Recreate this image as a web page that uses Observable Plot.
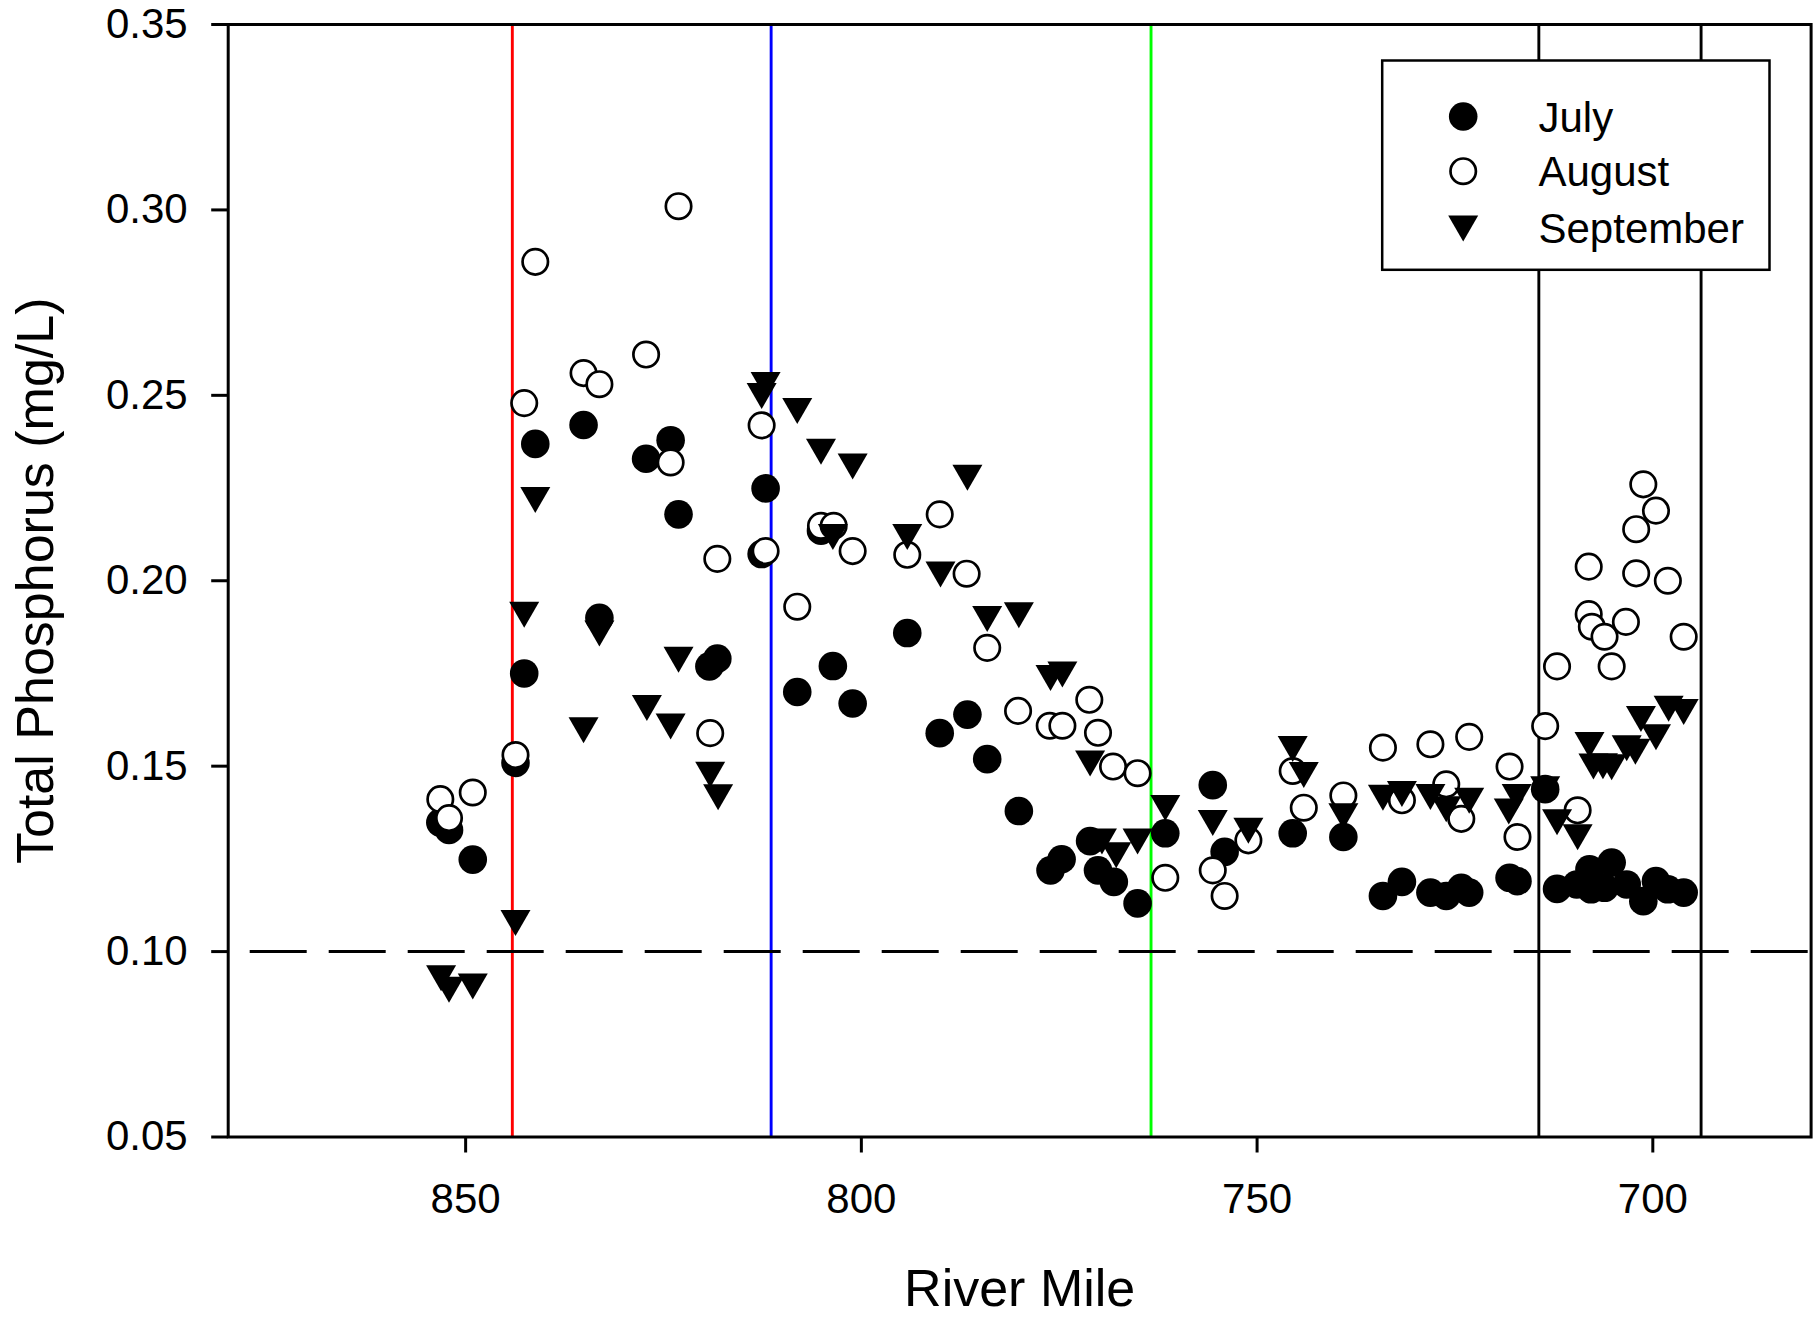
<!DOCTYPE html>
<html>
<head>
<meta charset="utf-8">
<script src="https://cdn.jsdelivr.net/npm/d3@7"></script>
<script src="https://cdn.jsdelivr.net/npm/@observablehq/plot@0.6"></script>
<style>
  html, body { margin: 0; padding: 0; overflow: hidden; background: #ffffff; }
  #chart svg { display: block; }
</style>
</head>
<body>
<div id="chart"></div>
<script>
// ---------------- DATA ----------------
const julyMiles = [853.2, 852.1, 849.1, 843.7, 842.6, 841.2, 835.1, 833.1, 827.2, 824.1, 823.1, 819.2, 818.2, 812.6, 812.1, 808.1, 805.1, 803.6, 801.1, 794.2, 790.1, 786.6, 784.1, 780.1, 776.1, 774.7, 771.1, 770.1, 768.1, 765.1, 761.6, 755.6, 754.1, 745.5, 739.1, 734.1, 731.7, 728.1, 726.1, 724.2, 723.2, 718.1, 717.1, 713.6, 712.1, 709.6, 708.0, 707.8, 706.1, 705.2, 703.3, 701.2, 699.6, 698.1, 696.1];
const julyTP = [0.1348, 0.1328, 0.1248, 0.1509, 0.1750, 0.2369, 0.2420, 0.1900, 0.2329, 0.2379, 0.2179, 0.1769, 0.1790, 0.2072, 0.2249, 0.1700, 0.2135, 0.1770, 0.1669, 0.1859, 0.1589, 0.1639, 0.1519, 0.1379, 0.1219, 0.1249, 0.1298, 0.1219, 0.1188, 0.1130, 0.1319, 0.1449, 0.1269, 0.1319, 0.1309, 0.1150, 0.1188, 0.1159, 0.1150, 0.1172, 0.1159, 0.1199, 0.1190, 0.1438, 0.1169, 0.1181, 0.1222, 0.1168, 0.1172, 0.1240, 0.1181, 0.1136, 0.1190, 0.1168, 0.1159];

const augustMiles = [853.2, 852.1, 849.1, 843.7, 842.6, 841.2, 835.1, 833.1, 827.2, 824.1, 823.1, 819.1, 818.2, 812.6, 812.1, 808.1, 805.1, 803.5, 801.1, 794.2, 790.1, 786.7, 784.1, 780.2, 776.2, 774.6, 771.2, 770.1, 768.2, 765.1, 761.6, 755.6, 754.1, 751.1, 745.5, 744.1, 739.1, 734.1, 731.7, 728.1, 726.1, 724.2, 723.2, 718.1, 717.1, 713.6, 712.1, 709.5, 708.1, 708.1, 707.7, 706.1, 705.2, 703.4, 702.1, 702.1, 701.2, 699.6, 698.1, 696.1];
const augustTP = [0.1411, 0.1360, 0.1429, 0.1530, 0.2479, 0.2860, 0.2560, 0.2530, 0.2610, 0.2319, 0.3010, 0.1589, 0.2059, 0.2419, 0.2080, 0.1930, 0.2148, 0.2148, 0.2080, 0.2070, 0.2179, 0.2019, 0.1819, 0.1649, 0.1609, 0.1609, 0.1679, 0.1590, 0.1499, 0.1481, 0.1199, 0.1219, 0.1150, 0.1300, 0.1487, 0.1388, 0.1421, 0.1550, 0.1408, 0.1559, 0.1451, 0.1358, 0.1579, 0.1499, 0.1309, 0.1608, 0.1769, 0.1381, 0.2038, 0.1910, 0.1876, 0.1849, 0.1769, 0.1889, 0.2139, 0.2020, 0.2260, 0.2189, 0.2000, 0.1849];

const septemberMiles = [853.1, 852.1, 849.1, 843.7, 842.6, 841.2, 835.1, 833.1, 827.1, 824.1, 823.1, 819.1, 818.1, 812.6, 812.1, 808.1, 805.1, 803.6, 801.1, 794.2, 790.0, 786.6, 784.1, 780.1, 776.1, 774.6, 771.1, 769.6, 767.8, 765.1, 761.6, 755.6, 751.1, 745.5, 744.1, 739.1, 734.1, 731.7, 728.1, 726.1, 723.2, 718.2, 717.2, 713.6, 712.1, 709.5, 708.0, 707.5, 706.3, 705.2, 703.3, 702.2, 701.5, 699.6, 698.0, 696.1];
const septemberTP = [0.0928, 0.0897, 0.0906, 0.1077, 0.1908, 0.2218, 0.1597, 0.1858, 0.1657, 0.1607, 0.1787, 0.1477, 0.1416, 0.2498, 0.2528, 0.2458, 0.2348, 0.2118, 0.2308, 0.2118, 0.2017, 0.2278, 0.1897, 0.1907, 0.1738, 0.1747, 0.1507, 0.1297, 0.1260, 0.1297, 0.1387, 0.1347, 0.1326, 0.1546, 0.1476, 0.1365, 0.1415, 0.1425, 0.1417, 0.1384, 0.1407, 0.1378, 0.1417, 0.1438, 0.1349, 0.1308, 0.1557, 0.1499, 0.1500, 0.1497, 0.1548, 0.1539, 0.1627, 0.1578, 0.1655, 0.1646];

const referenceMiles = [844.1, 811.4, 763.4, 714.4, 693.9];
const thresholdTP = [0.10];
const xTicks = [850, 800, 750, 700];
const yTicks = [0.05, 0.10, 0.15, 0.20, 0.25, 0.30, 0.35];
const seriesNames = ["July", "August", "September"];
const xTitle = "River Mile";
const yTitle = "Total Phosphorus (mg/L)";

// ---------------- BUILD ----------------
const toRows = (miles, vals) => miles.map((m, i) => ({mile: m, tp: vals[i]}));
const july = toRows(julyMiles, julyTP);
const august = toRows(augustMiles, augustTP);
const september = toRows(septemberMiles, septemberTP);

const lineColors = ["#ff0000", "#0000ff", "#00ff00", "#000000", "#000000"];

// downward pointing triangle (bbox centred on the point)
const triangleDown = {
  draw(context, size) {
    const s = Math.sqrt(size / Math.PI);
    context.moveTo(-s * 15 / 14, -s * 13 / 14);
    context.lineTo(s * 15 / 14, -s * 13 / 14);
    context.lineTo(0, s * 13 / 14);
    context.closePath();
  }
};

const FONT = "'Liberation Sans', Arial, Helvetica, sans-serif";

const W = 1813, H = 1317;
const mL = 227.7, mR = 2.4, mT = 24, mB = 180.5;

// legend geometry (pixel offsets from the plot frame's top-left corner)
const legBox = {left: 1381.7, right: 1769, top: 60, bottom: 269.3};
const legSymX = 1462.7 - mL;
const legTextX = 1538 - mL;
const legSymY = [116 - mT, 170.7 - mT, 228 - mT];
const legTextY = [131 - mT, 185.7 - mT, 242.7 - mT];

const chart = Plot.plot({
  width: W,
  height: H,
  marginLeft: mL,
  marginRight: mR,
  marginTop: mT,
  marginBottom: mB,
  style: {fontFamily: FONT, fontSize: "42px", color: "#000", background: "#fff", overflow: "visible"},
  x: {domain: [880, 680], ticks: xTicks, tickFormat: "d", tickSize: 16, tickPadding: 30, label: null},
  y: {domain: [0.05, 0.35], ticks: yTicks, tickFormat: d3.format(".2f"), tickSize: 16.5, tickPadding: 24, label: null},
  marks: [
    Plot.ruleX(referenceMiles, {x: d => d, stroke: (d, i) => lineColors[i], strokeWidth: 2.9}),
    Plot.ruleY(thresholdTP, {y: d => d, stroke: "#000", strokeWidth: 3, strokeDasharray: "57,22", strokeDashoffset: 57}),
    Plot.dot(july, {x: "mile", y: "tp", r: 14.3, fill: "#000", stroke: "none"}),
    Plot.dot(august, {x: "mile", y: "tp", r: 12.7, fill: "#fff", stroke: "#000", strokeWidth: 2.7}),
    Plot.dot(september, {x: "mile", y: "tp", r: 14, symbol: triangleDown, fill: "#000", stroke: "none"}),
    // legend box
    Plot.frame({fill: "#fff", stroke: "#000", strokeWidth: 2.5,
      insetLeft: legBox.left - mL, insetRight: (W - mR) - legBox.right,
      insetTop: legBox.top - mT, insetBottom: (H - mB) - legBox.bottom}),
    Plot.dot([seriesNames[0]], {frameAnchor: "top-left", dx: legSymX, dy: legSymY[0], r: 14.3, fill: "#000", stroke: "none"}),
    Plot.dot([seriesNames[1]], {frameAnchor: "top-left", dx: legSymX, dy: legSymY[1], r: 12.7, fill: "#fff", stroke: "#000", strokeWidth: 2.7}),
    Plot.dot([seriesNames[2]], {frameAnchor: "top-left", dx: legSymX, dy: legSymY[2], r: 14, symbol: triangleDown, fill: "#000", stroke: "none"}),
    ...seriesNames.map((name, i) => Plot.text([name], {frameAnchor: "top-left", dx: legTextX, dy: legTextY[i], text: d => d, textAnchor: "start", lineAnchor: "bottom", fontSize: 42, fill: "#000"})),
    // plot frame
    Plot.frame({stroke: "#000", strokeWidth: 3}),
    // axis titles
    Plot.text([yTitle], {frameAnchor: "left", dx: 52.5 - mL, rotate: -90, text: d => d, textAnchor: "middle", lineAnchor: "bottom", fontSize: 52, fill: "#000"}),
    Plot.text([xTitle], {frameAnchor: "bottom", dy: 169, text: d => d, textAnchor: "middle", lineAnchor: "bottom", fontSize: 52, fill: "#000"})
  ]
});

// thicker tick marks like the reference
d3.select(chart).selectAll('[aria-label*="axis"]').attr("stroke-width", 3);
d3.select(chart).selectAll('[aria-label*="axis"] text').attr("fill", "#000");

document.getElementById("chart").appendChild(chart);
</script>
</body>
</html>
